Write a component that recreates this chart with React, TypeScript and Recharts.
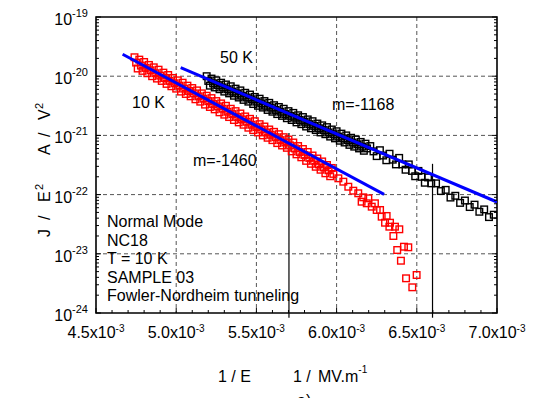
import {
  CartesianGrid,
  ReferenceArea,
  ReferenceLine,
  Scatter,
  ScatterChart,
  XAxis,
  YAxis,
} from "recharts";

// x: 1/E in units of 10^-3 (1 / MV.m^-1), y: log10(J / E^2)
const red10KX = [
  4.74, 4.75, 4.76, 4.77, 4.78, 4.79, 4.8, 4.81, 4.82, 4.83, 4.84, 4.85, 4.86,
  4.87, 4.88, 4.89, 4.9, 4.91, 4.92, 4.93, 4.94, 4.95, 4.96, 4.97, 4.98, 4.99,
  5.0, 5.01, 5.02, 5.03, 5.04, 5.05, 5.06, 5.07, 5.08, 5.09, 5.1, 5.11, 5.12,
  5.13, 5.14, 5.15, 5.16, 5.17, 5.18, 5.19, 5.2, 5.21, 5.22, 5.23, 5.24, 5.25,
  5.26, 5.27, 5.28, 5.29, 5.3, 5.31, 5.32, 5.33, 5.34, 5.35, 5.36, 5.37, 5.38,
  5.39, 5.4, 5.41, 5.42, 5.43, 5.44, 5.45, 5.46, 5.47, 5.48, 5.49, 5.5, 5.51,
  5.52, 5.53, 5.54, 5.55, 5.56, 5.57, 5.58, 5.59, 5.6, 5.61, 5.62, 5.63, 5.64,
  5.65, 5.66, 5.67, 5.68, 5.69, 5.7, 5.71, 5.72, 5.73, 5.74, 5.75, 5.76, 5.77,
  5.78, 5.79, 5.8, 5.81, 5.82, 5.83, 5.84, 5.85, 5.86, 5.87, 5.88, 5.89, 5.9,
  5.91, 5.92, 5.93, 5.94, 5.95, 5.96, 5.97, 5.98, 6.011, 6.042, 6.073, 6.104,
  6.135, 6.166, 6.156, 6.198, 6.188, 6.219, 6.239, 6.25, 6.271, 6.281, 6.312,
  6.302, 6.333, 6.329, 6.364, 6.391, 6.354, 6.378, 6.42, 6.447, 6.401, 6.433,
  6.499, 6.472,
];
const red10KLogY = [
  -19.68, -19.77, -19.87, -19.72, -19.82, -19.91, -19.76, -19.86, -19.95,
  -19.81, -19.9, -20.0, -19.85, -19.95, -20.04, -19.89, -19.99, -20.08,
  -19.94, -20.03, -20.13, -19.98, -20.08, -20.17, -20.03, -20.12, -20.21,
  -20.07, -20.16, -20.26, -20.11, -20.21, -20.3, -20.16, -20.25, -20.34,
  -20.2, -20.29, -20.39, -20.24, -20.34, -20.43, -20.29, -20.38, -20.48,
  -20.33, -20.42, -20.52, -20.37, -20.47, -20.56, -20.42, -20.51, -20.61,
  -20.46, -20.55, -20.65, -20.5, -20.6, -20.69, -20.55, -20.64, -20.74,
  -20.59, -20.69, -20.78, -20.63, -20.73, -20.82, -20.68, -20.77, -20.87,
  -20.72, -20.82, -20.91, -20.76, -20.86, -20.95, -20.81, -20.9, -21.0,
  -20.85, -20.95, -21.04, -20.9, -20.99, -21.08, -20.94, -21.03, -21.13,
  -20.98, -21.08, -21.17, -21.03, -21.12, -21.21, -21.07, -21.17, -21.27,
  -21.12, -21.22, -21.32, -21.18, -21.28, -21.37, -21.23, -21.33, -21.43,
  -21.28, -21.38, -21.48, -21.34, -21.43, -21.53, -21.39, -21.49, -21.58,
  -21.44, -21.54, -21.64, -21.5, -21.59, -21.69, -21.55, -21.65, -21.725,
  -21.782, -21.867, -21.934, -21.978, -22.046, -22.12, -22.063, -22.147,
  -22.204, -22.147, -22.26, -22.26, -22.373, -22.361, -22.475, -22.475,
  -22.542, -22.542, -22.586, -22.699, -22.936, -22.88, -22.89, -23.117,
  -23.414, -23.358, -23.566,
];

const black50KX = [
  5.19, 5.2, 5.21, 5.22, 5.23, 5.24, 5.25, 5.26, 5.27, 5.28, 5.29, 5.3, 5.31,
  5.32, 5.33, 5.34, 5.35, 5.36, 5.37, 5.38, 5.39, 5.4, 5.41, 5.42, 5.43, 5.44,
  5.45, 5.46, 5.47, 5.48, 5.49, 5.5, 5.51, 5.52, 5.53, 5.54, 5.55, 5.56, 5.57,
  5.58, 5.59, 5.6, 5.61, 5.62, 5.63, 5.64, 5.65, 5.66, 5.67, 5.68, 5.69, 5.7,
  5.71, 5.72, 5.73, 5.74, 5.75, 5.76, 5.77, 5.78, 5.79, 5.8, 5.81, 5.82, 5.83,
  5.84, 5.85, 5.86, 5.87, 5.88, 5.89, 5.9, 5.91, 5.92, 5.93, 5.94, 5.95, 5.96,
  5.97, 5.98, 5.99, 6.0, 6.01, 6.02, 6.03, 6.04, 6.05, 6.06, 6.07, 6.08, 6.09,
  6.1, 6.11, 6.12, 6.13, 6.14, 6.15, 6.16, 6.17, 6.18, 6.19, 6.21, 6.23, 6.25,
  6.27, 6.29, 6.31, 6.33, 6.35, 6.37, 6.39, 6.41, 6.43, 6.45, 6.47, 6.49,
  6.51, 6.53, 6.55, 6.57, 6.59, 6.62, 6.65, 6.68, 6.71, 6.74, 6.77, 6.8, 6.83,
  6.86, 6.89, 6.92, 6.95, 6.98,
];
const black50KLogY = [
  -20.0, -20.08, -20.16, -20.04, -20.12, -20.19, -20.07, -20.15, -20.22,
  -20.11, -20.19, -20.26, -20.14, -20.22, -20.29, -20.17, -20.26, -20.33,
  -20.21, -20.29, -20.36, -20.24, -20.33, -20.4, -20.28, -20.36, -20.43,
  -20.31, -20.39, -20.47, -20.35, -20.43, -20.5, -20.38, -20.46, -20.53,
  -20.42, -20.5, -20.57, -20.45, -20.53, -20.6, -20.49, -20.57, -20.64,
  -20.52, -20.6, -20.67, -20.55, -20.64, -20.71, -20.59, -20.67, -20.74,
  -20.62, -20.7, -20.78, -20.66, -20.74, -20.81, -20.69, -20.77, -20.85,
  -20.73, -20.81, -20.88, -20.76, -20.84, -20.91, -20.8, -20.88, -20.95,
  -20.83, -20.91, -20.98, -20.86, -20.95, -21.02, -20.9, -20.98, -21.05,
  -20.93, -21.02, -21.09, -20.97, -21.05, -21.12, -21.0, -21.08, -21.16,
  -21.04, -21.12, -21.19, -21.07, -21.15, -21.22, -21.11, -21.19, -21.26,
  -21.14, -21.22, -21.18, -21.27, -21.35, -21.25, -21.34, -21.42, -21.31,
  -21.41, -21.49, -21.38, -21.49, -21.58, -21.49, -21.6, -21.69, -21.6,
  -21.7, -21.8, -21.71, -21.81, -21.81, -21.94, -21.92, -22.05, -22.02,
  -22.14, -22.1, -22.21, -22.17, -22.29, -22.25, -22.38, -22.34,
];

// fitted straight lines (m=-1460 and m=-1168)
const fit10KX = [4.666, 6.296];
const fit10KLogY = [-19.63, -21.995];
const fit50KX = [5.028, 7.0];
const fit50KLogY = [-19.856, -22.125];

// vertical marker lines
const markerX = [5.703, 6.598];
const markerTop = [-20.96, -21.48];
const markerBottom = -24.08;

const xMajorTicks = [4.5, 5.0, 5.5, 6.0, 6.5, 7.0];
const yMajorTicks = [-24, -23, -22, -21, -20, -19];
const xGridValues = [5.0, 5.5, 6.0, 6.5];
const yGridValues = [-23, -22, -21, -20];
const notes = [
  "Normal Mode",
  "NC18",
  "T = 10 K",
  "SAMPLE 03",
  "Fowler-Nordheim tunneling",
];

const font = '"Liberation Sans", Arial, Helvetica, sans-serif';

const zip = (xs: number[], ys: number[]) =>
  xs.map((x, i) => ({ x, y: ys[i] }));

const xTicks: number[] = [];
for (let i = 0; i <= 25; i++) xTicks.push(Math.round((4.5 + i * 0.1) * 10) / 10);
const yTicks: number[] = [];
for (const d of yMajorTicks) {
  yTicks.push(d);
  if (d < -19) for (let k = 2; k <= 9; k++) yTicks.push(d + Math.log10(k));
}

const isMajorX = (v: number) => xMajorTicks.some((t) => Math.abs(t - v) < 1e-6);

function XTick({ x, y, payload }: any) {
  const v = payload.value;
  const major = isMajorX(v);
  return (
    <g>
      <line x1={x} x2={x} y1={y} y2={y - (major ? 5 : 3)} stroke="#000" />
      {major && (
        <text x={x} y={y + 25} textAnchor="middle" fontSize={16} fill="#000">
          {v.toFixed(1)}x10
          <tspan dy={-6} fontSize={10}>
            -3
          </tspan>
        </text>
      )}
    </g>
  );
}

function YTickLeft({ x, y, payload }: any) {
  const v = payload.value;
  const major = Number.isInteger(v);
  return (
    <g>
      <line x1={x} x2={x + (major ? 5 : 3)} y1={y} y2={y} stroke="#000" />
      {major && (
        <text x={x - 8} y={y + 8} textAnchor="end" fontSize={16} fill="#000">
          10
          <tspan dy={-8} fontSize={11}>
            {String(v)}
          </tspan>
        </text>
      )}
    </g>
  );
}

function YTickRight({ x, y, payload }: any) {
  const major = Number.isInteger(payload.value);
  return <line x1={x} x2={x - (major ? 5 : 3)} y1={y} y2={y} stroke="#000" />;
}

const square = (color: string) => (props: any) =>
  (
    <rect
      x={props.cx - 3.3}
      y={props.cy - 3.3}
      width={6.6}
      height={6.6}
      fill="none"
      stroke={color}
      strokeWidth={1.4}
    />
  );

const noDot = () => <g />;

function Annotations() {
  return (
    <g fontSize={16} fill="#000">
      <text x={220} y={63}>50 K</text>
      <text x={132} y={108}>10 K</text>
      <text x={332} y={110}>m=-1168</text>
      <text x={193} y={166}>m=-1460</text>
      {notes.map((n, i) => (
        <text key={n} x={107} y={227 + i * 18.6}>
          {n}
        </text>
      ))}
      <text y={382}>
        <tspan x={218}>1 / E</tspan>
        <tspan x={293}>1 /</tspan>
        <tspan x={318}>MV.m</tspan>
        <tspan dy={-9} fontSize={10}>-1</tspan>
      </text>
      <text transform="translate(50,237) rotate(-90)">
        <tspan x={0}>J</tspan>
        <tspan x={17}>/</tspan>
        <tspan x={35}>E</tspan>
        <tspan x={47} dy={-7} fontSize={11}>2</tspan>
        <tspan x={82} dy={7}>A</tspan>
        <tspan x={100}>/</tspan>
        <tspan x={117}>V</tspan>
        <tspan x={128} dy={-7} fontSize={11}>2</tspan>
      </text>
      <text x={297} y={406}>a)</text>
    </g>
  );
}

export default function App() {
  return (
    <div
      style={{
        position: "absolute",
        left: 0,
        top: 0,
        width: 533,
        height: 398,
        background: "#fff",
        fontFamily: font,
      }}
    >
      <ScatterChart
        width={533}
        height={398}
        margin={{ top: 17, right: 30, bottom: 55, left: 8 }}
      >
        <CartesianGrid
          stroke="#555"
          strokeDasharray="4 3"
          horizontalValues={yGridValues}
          verticalValues={xGridValues}
        />
        <XAxis
          type="number"
          dataKey="x"
          domain={[4.5, 7.0]}
          ticks={xTicks}
          interval={0}
          allowDataOverflow
          axisLine={false}
          tickLine={false}
          tickSize={0}
          tickMargin={0}
          height={30}
          tick={<XTick />}
        />
        <YAxis
          type="number"
          dataKey="y"
          domain={[-24, -19]}
          ticks={yTicks}
          interval={0}
          allowDataOverflow
          axisLine={false}
          tickLine={false}
          tickSize={0}
          tickMargin={0}
          width={88}
          tick={<YTickLeft />}
        />
        <YAxis
          yAxisId="right"
          orientation="right"
          type="number"
          dataKey="y"
          domain={[-24, -19]}
          ticks={yTicks}
          interval={0}
          allowDataOverflow
          axisLine={false}
          tickLine={false}
          tickSize={0}
          tickMargin={0}
          width={6}
          tick={<YTickRight />}
        />
        <Scatter
          data={zip(red10KX, red10KLogY)}
          shape={square("#ff0000")}
          isAnimationActive={false}
        />
        <Scatter
          data={zip(black50KX, black50KLogY)}
          shape={square("#000000")}
          isAnimationActive={false}
        />
        <Scatter
          data={zip(fit10KX, fit10KLogY)}
          line={{ stroke: "#0000ff", strokeWidth: 3 }}
          shape={noDot}
          isAnimationActive={false}
        />
        <Scatter
          data={zip(fit50KX, fit50KLogY)}
          line={{ stroke: "#0000ff", strokeWidth: 3 }}
          shape={noDot}
          isAnimationActive={false}
        />
        {markerX.map((mx, i) => (
          <ReferenceLine
            key={mx}
            segment={[
              { x: mx, y: markerTop[i] },
              { x: mx, y: markerBottom },
            ]}
            stroke="#000"
            strokeWidth={1.2}
            ifOverflow="visible"
          />
        ))}
        <ReferenceArea
          x1={4.5}
          x2={7.0}
          y1={-24}
          y2={-19}
          fill="none"
          fillOpacity={0}
          stroke="#000"
          strokeWidth={1.6}
          ifOverflow="visible"
        />
        <Annotations />
      </ScatterChart>
    </div>
  );
}
